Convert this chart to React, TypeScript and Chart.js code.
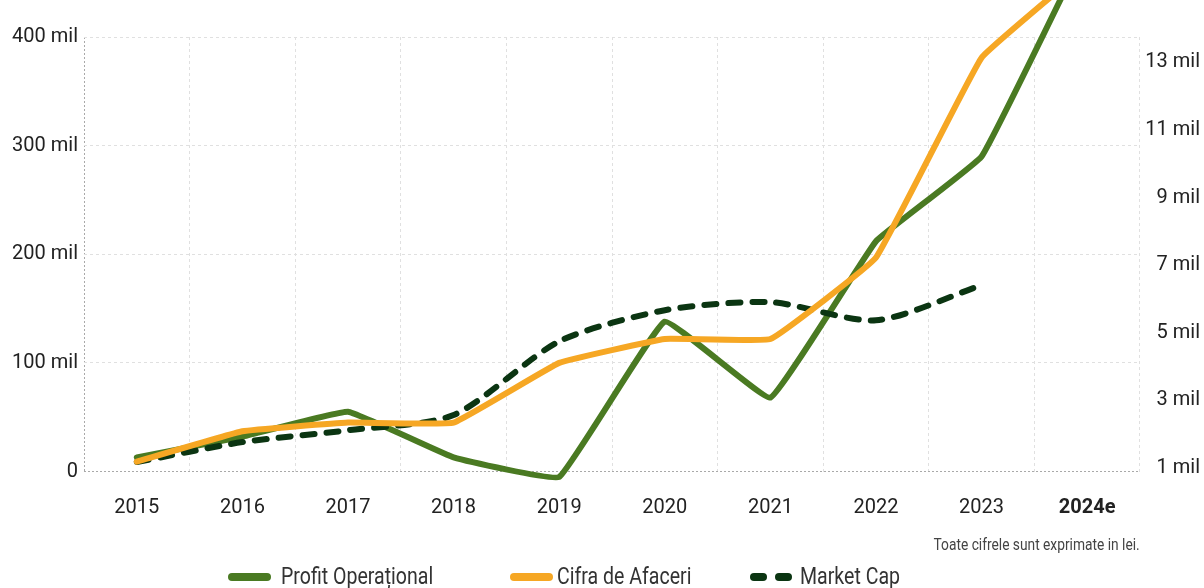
import React, { useEffect, useRef } from "react";
import { Chart, registerables } from "chart.js";

Chart.register(...registerables);

const years = ["2015", "2016", "2017", "2018", "2019", "2020", "2021", "2022", "2023", "2024e"];
const profitOperational = [13, 32, 55, 13, -5, 138, 68, 212, 290, 485];
const cifraDeAfaceri = [9, 37, 45, 45, 100, 122, 122, 197, 381, 465];
const marketCap = [1.18, 1.77, 2.12, 2.57, 4.75, 5.67, 5.91, 5.37, 6.41, null];
const leftTicks = [0, 100, 200, 300, 400];
const rightTicks = [1, 3, 5, 7, 9, 11, 13];

const GREEN = "#4a7a22";
const ORANGE = "#f6a724";
const DARK = "#0b3512";
const TICK_FONT = "Roboto, 'Noto Sans', sans-serif";
const NARROW = "Roboto, 'Noto Sans', sans-serif";

export default function App() {
  const ref = useRef<HTMLCanvasElement | null>(null);

  useEffect(() => {
    if (!ref.current) return;
    const gridColor = (ctx: any) => (ctx.index === 0 ? "#a9a9a9" : "#e0e0e0");
    const gridDash = (ctx: any) => (ctx.index === 0 ? [2, 2] : [3, 3]);
    const chart = new Chart(ref.current, {
      type: "line",
      data: {
        labels: years,
        datasets: [
          {
            label: "Cifra de Afaceri",
            data: cifraDeAfaceri,
            borderColor: ORANGE,
            backgroundColor: ORANGE,
            borderWidth: 6,
            pointRadius: 0,
            tension: 0.08,
            borderJoinStyle: "round",
            borderCapStyle: "round",
            yAxisID: "y",
            clip: false as any,
            order: 0,
          },
          {
            label: "Market Cap",
            data: marketCap,
            borderColor: DARK,
            backgroundColor: DARK,
            borderWidth: 6,
            borderDash: [12, 12],
            borderCapStyle: "round",
            borderJoinStyle: "round",
            pointRadius: 0,
            tension: 0.25,
            yAxisID: "y2",
            clip: false as any,
            order: 1,
          },
          {
            label: "Profit Operațional",
            data: profitOperational,
            borderColor: GREEN,
            backgroundColor: GREEN,
            borderWidth: 6,
            pointRadius: 0,
            tension: 0.08,
            borderJoinStyle: "round",
            borderCapStyle: "round",
            yAxisID: "y",
            clip: false as any,
            order: 2,
          },
        ],
      },
      options: {
        animation: false,
        responsive: false,
        devicePixelRatio: 1,
        layout: { padding: { top: 37, right: 4, bottom: 71.5, left: 0 } },
        plugins: { legend: { display: false }, tooltip: { enabled: false } },
        events: [],
        scales: {
          x: {
            type: "category",
            offset: true,
            grid: { offset: true, color: gridColor, lineWidth: 1, drawTicks: false },
            border: { display: false, dash: gridDash as any },
            ticks: {
              padding: 24,
              color: "#222",
              maxRotation: 0,
              autoSkip: false,
              font: (ctx: any) => ({ family: TICK_FONT, size: 20, weight: ctx.index === 9 ? "bold" : "normal" }),
            },
            afterFit: (s: any) => {
              s.height = 45;
            },
          },
          y: {
            position: "left",
            min: leftTicks[0],
            max: leftTicks[leftTicks.length - 1],
            afterBuildTicks: (s: any) => {
              s.ticks = leftTicks.map((v) => ({ value: v }));
            },
            grid: { color: gridColor, lineWidth: 1, drawTicks: false },
            border: { display: false, dash: gridDash as any },
            ticks: {
              padding: 6,
              color: "#222",
              font: { family: TICK_FONT, size: 20 },
              callback: (v: any) => (Number(v) === 0 ? "0" : v + " mil"),
            },
            afterFit: (s: any) => {
              s.width = 84;
            },
          },
          y2: {
            position: "right",
            min: 0.9,
            max: 13.75,
            afterBuildTicks: (s: any) => {
              s.ticks = rightTicks.map((v) => ({ value: v }));
            },
            grid: { display: false, drawOnChartArea: false, drawTicks: false },
            border: { display: false },
            ticks: {
              padding: 4,
              crossAlign: "far",
              color: "#222",
              font: { family: TICK_FONT, size: 20 },
              callback: (v: any) => v + " mil",
            },
            afterFit: (s: any) => {
              s.width = 60;
            },
          },
        },
      },
    });
    return () => chart.destroy();
  }, []);

  const legendText: React.CSSProperties = {
    position: "absolute",
    top: 565,
    fontFamily: NARROW,
    fontSize: 23,
    lineHeight: "24px",
    color: "#333",
    whiteSpace: "nowrap",
    transform: "scaleX(0.85)",
    transformOrigin: "left center",
  };
  const swatch = (left: number, width: number, color: string): React.CSSProperties => ({
    position: "absolute",
    left,
    top: 573,
    width,
    height: 8,
    borderRadius: 4,
    background: color,
  });

  return (
    <div
      style={{
        position: "fixed",
        left: 0,
        top: 0,
        width: 1204,
        height: 588,
        overflow: "hidden",
        background: "#fff",
      }}
    >
      <canvas ref={ref} width={1204} height={588} style={{ position: "absolute", left: 0, top: 0 }} />
      <div
        style={{
          position: "absolute",
          right: 64,
          top: 535,
          fontFamily: NARROW,
          fontSize: 16,
          lineHeight: "20px",
          color: "#444",
          whiteSpace: "nowrap",
          transform: "scaleX(0.86)",
          transformOrigin: "right center",
        }}
      >
        Toate cifrele sunt exprimate in lei.
      </div>
      <div style={swatch(228, 43, GREEN)} />
      <div style={{ ...legendText, left: 281 }}>Profit Operațional</div>
      <div style={swatch(510, 43, ORANGE)} />
      <div style={{ ...legendText, left: 557 }}>Cifra de Afaceri</div>
      <div style={swatch(750, 17, DARK)} />
      <div style={swatch(775, 17, DARK)} />
      <div style={{ ...legendText, left: 800 }}>Market Cap</div>
    </div>
  );
}
